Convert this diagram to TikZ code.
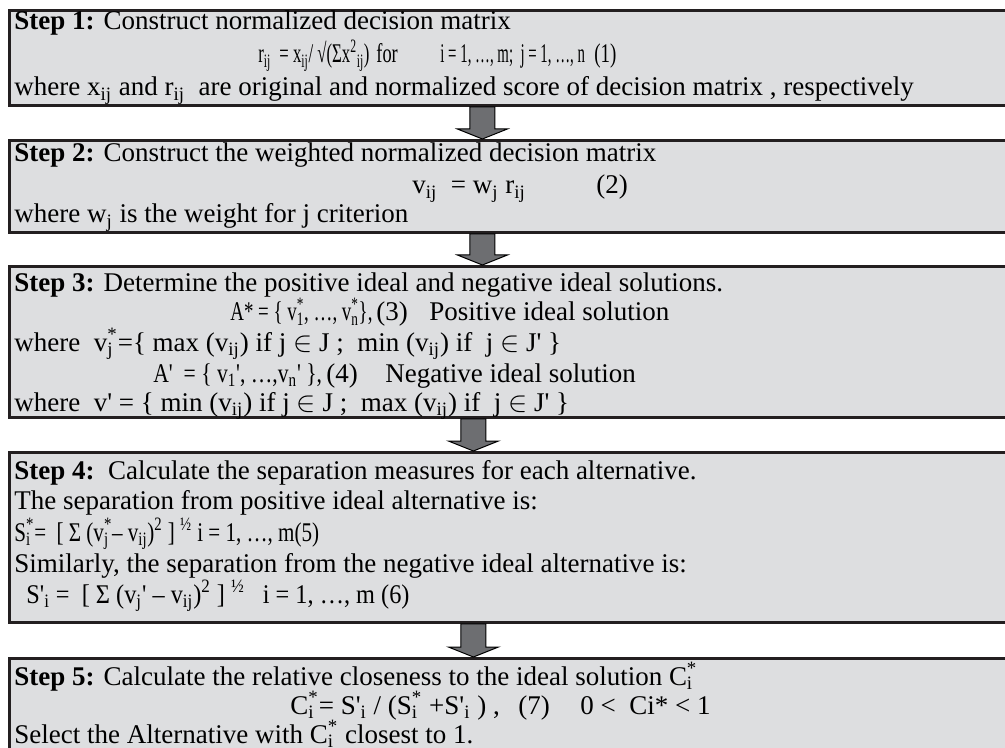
\documentclass[tikz,border=0pt]{standalone}
\usepackage{fontspec}
\usepackage{graphicx}
\setmainfont{Liberation Serif}
\usetikzlibrary{calc}
\definecolor{BoxFill}{RGB}{221,222,224}
\definecolor{BoxLine}{RGB}{35,31,32}
\definecolor{ArrowFill}{RGB}{109,110,113}
\newcommand\sbs[1]{\textsubscript{#1}}
\newcommand\sps[1]{\textsuperscript{#1}}
\newcommand\ssp[2]{\rlap{\textsubscript{#1}}\textsuperscript{#2}}
\newcommand\pr{\textquotesingle}
\newcommand\narrow[2]{\scalebox{#1}[1]{#2}}
\newcommand\flowarrow[3]{%
  \draw[blk] ([xshift=#3-6.25pt]#1.south) -- ([xshift=#3-6.25pt,yshift=5pt]#2.north)
    -- ([xshift=#3-12.5pt,yshift=5pt]#2.north) -- ([xshift=#3]#2.north)
    -- ([xshift=#3+12.5pt,yshift=5pt]#2.north) -- ([xshift=#3+6.25pt,yshift=5pt]#2.north)
    -- ([xshift=#3+6.25pt]#1.south) -- cycle;}

\begin{document}
\begin{tikzpicture}[x=0.5pt,y=-0.5pt,
    stepbox/.style={draw=BoxLine,line width=1.4pt,fill=BoxFill,
                    anchor=north west,minimum width=506pt,inner sep=0pt},
    txt/.style={anchor=base west,inner sep=0pt,font=\fontsize{13.5}{15}\selectfont},
    blk/.style={draw=black,line width=0.5pt,fill=ArrowFill}
  ]
  \useasboundingbox (0,0) rectangle (1005,748);
  \clip (0,0) rectangle (1005,748);
  \node[stepbox,minimum height=47.5pt] (box1) at (8,9) {};
  \node[stepbox,minimum height=46pt]   (box2) at (8,139) {};
  \node[stepbox,minimum height=75.5pt] (box3) at (8,265) {};
  \node[stepbox,minimum height=85pt]   (box4) at (8,451) {};
  \node[stepbox,minimum height=75pt]   (box5) at (8,657) {};
  \flowarrow{box1}{box2}{-16.5pt}
  \flowarrow{box2}{box3}{-16.5pt}
  \flowarrow{box3}{box4}{-21pt}
  \flowarrow{box4}{box5}{-21pt}

  \node[txt] (t1a) at (14,30) {\textbf{Step 1:} Construct normalized decision matrix};
  \node[txt] (t1b) at (258,63) {\narrow{0.62}{r\sbs{ij}\ \ = x\sbs{ij}/ √(Σx\sps{2}\sbs{ij})}};
  \node[txt] (t1c) at (376,63) {\narrow{0.68}{for}};
  \node[txt] (t1d) at (440,63) {\narrow{0.55}{i = 1, …, m;\ \ j = 1, …, n}};
  \node[txt] (t1e) at (594,63) {\narrow{0.7}{(1)}};
  \node[txt] (t1f) at (14,96) {where x\sbs{ij} and r\sbs{ij}\ \ are original and normalized score of decision matrix , respectively};

  \node[txt] (t2a) at (14,162) {\textbf{Step 2:} Construct the weighted normalized decision matrix};
  \node[txt] (t2b) at (412,194) {v\sbs{ij}\ \ = w\sbs{j} r\sbs{ij}};
  \node[txt] (t2c) at (596,194) {(2)};
  \node[txt] (t2d) at (14,223) {where w\sbs{j} is the weight for j criterion};

  \node[txt] (t3a) at (14,292) {\textbf{Step 3:} Determine the positive ideal and negative ideal solutions.};
  \node[txt] (t3b) at (230,321) {\narrow{0.7}{A* = \{ v\ssp{1}{*}, …, v\ssp{n}{*}\},}};
  \node[txt] (t3c) at (376,321) {(3)};
  \node[txt] (t3d) at (429,321) {Positive ideal solution};
  \node[txt] (t3e) at (14,351) {where\ \ v\ssp{j}{*}=\{ max (v\sbs{ij}) if j $\in$ J ;\ \ min (v\sbs{ij}) if\ \ j $\in$ J\pr\ \}};
  \node[txt] (t3f) at (153,382) {\narrow{0.8}{A\pr\ \ = \{ v\sbs{1}\pr, …,v\sbs{n}\pr\ \},}};
  \node[txt] (t3g) at (326,382) {(4)};
  \node[txt] (t3h) at (385,382) {Negative ideal solution};
  \node[txt] (t3i) at (14,411) {where\ \ v\pr\ = \{ min (v\sbs{ij}) if j $\in$ J ;\ \ max (v\sbs{ij}) if\ \ j $\in$ J\pr\ \}};

  \node[txt] (t4a) at (14,479) {\textbf{Step 4:}\ \ Calculate the separation measures for each alternative.};
  \node[txt] (t4b) at (14,509) {The separation from positive ideal alternative is:};
  \node[txt] (t4c) at (14,541) {\narrow{0.78}{S\ssp{i}{*}= \ [ Σ (v\ssp{j}{*}– v\sbs{ij})\sps{2} ] \sps{½} i = 1, …, m(5)}};
  \node[txt] (t4d) at (14,572) {Similarly, the separation from the negative ideal alternative is:};
  \node[txt] (t4e) at (26,603) {\narrow{0.9}{S\pr\sbs{i} = \ [ Σ (v\sbs{j}\pr\ – v\sbs{ij})\sps{2} ] \sps{½}\ \ \ i = 1, …, m (6)}};

  \node[txt] (t5a) at (14,685) {\textbf{Step 5:} Calculate the relative closeness to the ideal solution C\ssp{i}{*}};
  \node[txt] (t5b) at (290,714) {C\ssp{i}{*}= S\pr\sbs{i} / (S\ssp{i}{*} +S\pr\sbs{i} ) ,};
  \node[txt] (t5c) at (518,714) {(7)};
  \node[txt] (t5d) at (580,714) {0 <\ \ Ci* < 1};
  \node[txt] (t5e) at (14,743) {Select the Alternative with C\ssp{i}{*} closest to 1.};
\end{tikzpicture}
\end{document}
